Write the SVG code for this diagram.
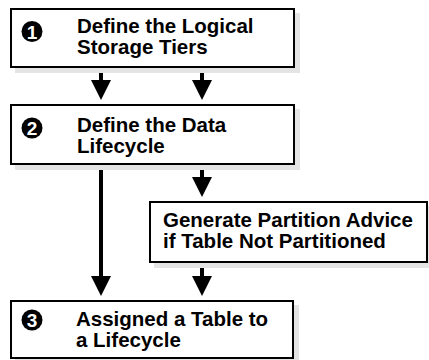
<svg xmlns="http://www.w3.org/2000/svg" width="429" height="360" viewBox="0 0 429 360">
<style>
.box{fill:#fff;stroke:#000;stroke-width:2}
.sh{fill:#e4e4e4}
.t{font-family:"Liberation Sans",Arial,sans-serif;font-weight:bold;font-size:20.5px;fill:#000}
.n{font-family:"Liberation Sans",Arial,sans-serif;font-weight:bold;font-size:19px;fill:#fff;text-anchor:middle}
.ln{stroke:#000;stroke-width:4;fill:none}
</style>
<rect width="429" height="360" fill="#fff"/>
<g id="connectors">
<line class="ln" x1="101" y1="68" x2="101" y2="82"/>
<polygon points="91,80 111,80 101,100"/>
<line class="ln" x1="202" y1="68" x2="202" y2="82"/>
<polygon points="192,80 212,80 202,100"/>
<line class="ln" x1="202" y1="165" x2="202" y2="179"/>
<polygon points="192,177 212,177 202,197"/>
<line class="ln" x1="101" y1="165" x2="101" y2="278"/>
<polygon points="91,276 111,276 101,296"/>
<line class="ln" x1="202" y1="263" x2="202" y2="278"/>
<polygon points="192,276 212,276 202,296"/>
</g>
<g id="node1">
<rect class="sh" x="15" y="13" width="285" height="60"/>
<rect class="box" x="11" y="9" width="283" height="58"/>
<circle cx="32" cy="31.5" r="10.5"/>
<text class="n" x="32" y="38.5">1</text>
<text class="t" x="77" y="32.5">Define the Logical<tspan x="77" dy="21">Storage Tiers</tspan></text>
</g>
<g id="node2">
<rect class="sh" x="15" y="109" width="285" height="61"/>
<rect class="box" x="11" y="105" width="283" height="59"/>
<circle cx="32" cy="128" r="10.5"/>
<text class="n" x="32" y="135">2</text>
<text class="t" x="77" y="131.5">Define the Data<tspan x="77" dy="21">Lifecycle</tspan></text>
</g>
<g id="node3">
<rect class="sh" x="154" y="206" width="279" height="62"/>
<rect class="box" x="150" y="202" width="277" height="60"/>
<text class="t" x="163" y="227">Generate Partition Advice<tspan x="163" dy="21">if Table Not Partitioned</tspan></text>
</g>
<g id="node4">
<rect class="sh" x="15" y="305" width="284" height="60"/>
<rect class="box" x="11" y="301" width="282" height="57"/>
<circle cx="32" cy="320" r="10.5"/>
<text class="n" x="32" y="327">3</text>
<text class="t" x="76" y="325.5">Assigned a Table to<tspan x="76" dy="21">a Lifecycle</tspan></text>
</g>
</svg>
